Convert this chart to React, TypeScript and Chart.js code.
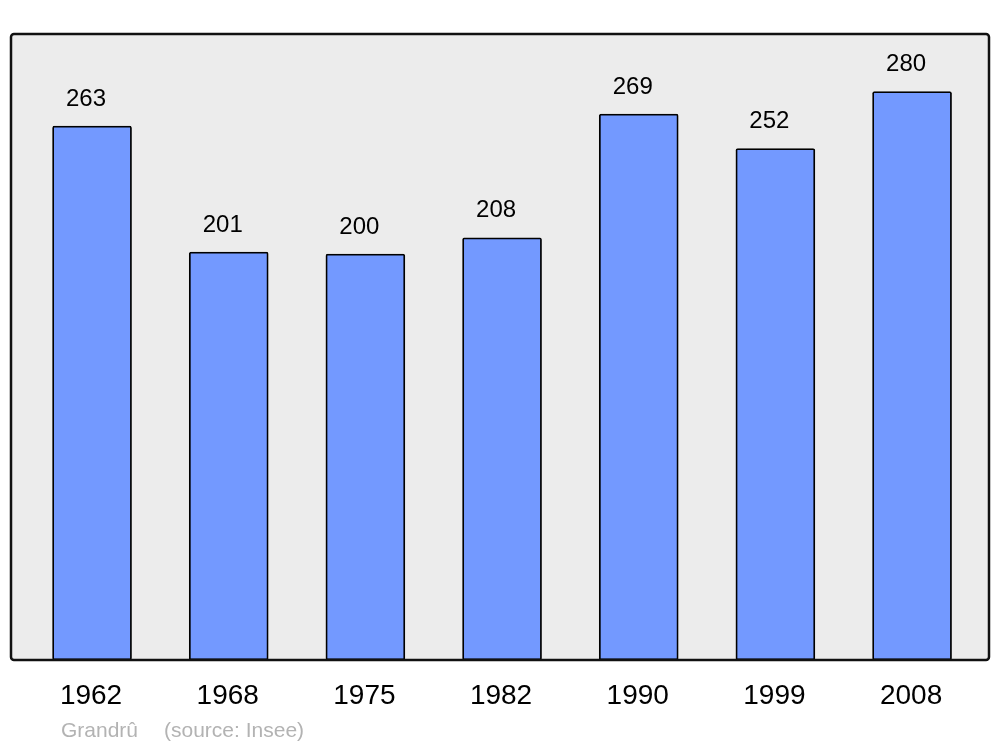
import React, { useEffect, useRef } from "react";
import { Chart, registerables } from "chart.js";

Chart.register(...registerables);

const years = ["1962", "1968", "1975", "1982", "1990", "1999", "2008"];
const population = [263, 201, 200, 208, 269, 252, 280];
const sourceName = "Grandrû";
const sourceNote = "(source: Insee)";

const FONT = "'Liberation Sans', Arial, sans-serif";

const framePlugin = {
  id: "frame",
  beforeDraw(chart: any) {
    const { ctx, chartArea: a } = chart;
    ctx.save();
    ctx.beginPath();
    ctx.roundRect(a.left, a.top, a.right - a.left, a.bottom - a.top, 3);
    ctx.fillStyle = "#ececec";
    ctx.fill();
    ctx.restore();
  },
  afterDraw(chart: any) {
    const { ctx, chartArea: a, scales } = chart;
    ctx.save();
    ctx.beginPath();
    ctx.roundRect(a.left, a.top, a.right - a.left, a.bottom - a.top, 3);
    ctx.lineWidth = 2.5;
    ctx.strokeStyle = "#111";
    ctx.stroke();

    const xs = scales.x;
    const ys = scales.y;
    ctx.fillStyle = "#000";
    ctx.textAlign = "center";
    ctx.textBaseline = "middle";
    ctx.font = `24px ${FONT}`;
    population.forEach((v, i) => {
      const x = xs.getPixelForValue(i);
      const y = ys.getPixelForValue(v);
      ctx.fillText(String(v), x - 6, y - 27);
    });
    ctx.font = `28px ${FONT}`;
    years.forEach((yr, i) => {
      const x = xs.getPixelForValue(i);
      ctx.fillText(yr, x - 1, a.bottom + 36);
    });
    ctx.fillStyle = "#b3b3b3";
    ctx.textAlign = "left";
    ctx.font = `21px ${FONT}`;
    ctx.fillText(sourceName, 61, a.bottom + 71);
    ctx.fillText(sourceNote, 164, a.bottom + 71);
    ctx.restore();
  },
};

export default function App() {
  const ref = useRef<HTMLCanvasElement>(null);
  useEffect(() => {
    if (!ref.current) return;
    const chart = new Chart(ref.current, {
      type: "bar",
      data: {
        datasets: [
          {
            data: population.map((v, i) => ({ x: i, y: v })),
            backgroundColor: "#7399ff",
            borderColor: "#000",
            borderWidth: 1.8,
            borderRadius: 2,
            borderSkipped: false,
            barThickness: 79,
          },
        ],
      },
      options: {
        animation: false,
        responsive: false,
        events: [],
        layout: { padding: { left: 11, top: 34, right: 11, bottom: 87 } },
        plugins: { legend: { display: false }, tooltip: { enabled: false } },
        scales: {
          x: { type: "linear", min: -0.593, max: 6.563, offset: false, display: false },
          y: { min: 0, max: 308.4, display: false },
        },
      },
      plugins: [framePlugin],
    } as any);
    return () => chart.destroy();
  }, []);
  return (
    <div style={{ position: "absolute", left: 0, top: 0, width: 1000, height: 747, background: "#fff" }}>
      <canvas ref={ref} width={1000} height={747} />
    </div>
  );
}
